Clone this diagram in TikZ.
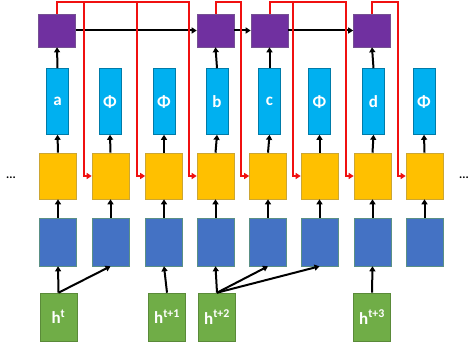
\documentclass[tikz,border=0pt]{standalone}
\usepackage{fontspec}
\setmainfont{Carlito}
\usetikzlibrary{arrows.meta}
\definecolor{cPurple}{HTML}{7030A0}
\definecolor{cCyan}{HTML}{00B0F0}
\definecolor{cYellow}{HTML}{FFC000}
\definecolor{cBlue}{HTML}{4472C4}
\definecolor{cGreen}{HTML}{70AD47}
\definecolor{cRed}{HTML}{F01010}
\tikzset{
  box/.style={inner sep=0pt, line width=0.6pt, text=white, font=\bfseries\fontsize{17}{20}\selectfont},
  pbox/.style={box, fill=cPurple, draw=cPurple!60!gray, minimum width=37pt, minimum height=33pt},
  cbox/.style={box, fill=cCyan, draw=cCyan!70!black, minimum width=22pt, minimum height=66pt},
  ybox/.style={box, fill=cYellow, draw=cYellow!60!gray, minimum width=37pt, minimum height=46pt},
  bbox/.style={box, fill=cBlue, draw=cBlue!50!cGreen, minimum width=37pt, minimum height=48pt},
  gbox/.style={box, fill=cGreen, draw=cGreen!80!black, minimum width=37pt, minimum height=48pt},
  arr/.style={draw=black, line width=2pt, -{Triangle[length=5pt,width=6pt]}},
  rarr/.style={draw=cRed, line width=2pt, -{Triangle[length=5pt,width=6pt]}},
  dots/.style={font=\bfseries\fontsize{12}{12}\selectfont, inner sep=0pt}
}
\begin{document}
\begin{tikzpicture}[x=1pt,y=-1pt]
\useasboundingbox (0,0) rectangle (471,347);
\fill[white] (0,0) rectangle (471,347);
\foreach \i/\x in {1/58,2/110.5,3/164,4/215.5,5/268,6/319.5,7/372.5,8/424.5}{
  \node[ybox] (y\i) at (\x,176) {};
  \node[bbox] (b\i) at (\x,242) {};
}
\node[cbox] (c1) at (57.5,101.5) {a};
\node[cbox] (c2) at (110,101.5) {Φ};
\node[cbox] (c3) at (164,101.5) {Φ};
\node[cbox] (c4) at (217,101.5) {b};
\node[cbox] (c5) at (269.5,101.5) {c};
\node[cbox] (c6) at (319.5,101.5) {Φ};
\node[cbox] (c7) at (373.5,101.5) {d};
\node[cbox] (c8) at (424,101.5) {Φ};
\node[pbox] (p1) at (57,30.5) {};
\node[pbox] (p4) at (215.5,30.5) {};
\node[pbox] (p5) at (269.5,30.5) {};
\node[pbox] (p7) at (372,30.5) {};
\node[gbox] (g1) at (58.5,317) {h\textsuperscript{t}};
\node[gbox] (g3) at (167,317) {h\textsuperscript{t+1}};
\node[gbox] (g4) at (217,317) {h\textsuperscript{t+2}};
\node[gbox] (g7) at (372,317) {h\textsuperscript{t+3}};
\node[dots] (dl) at (11,178) {...};
\node[dots] (dr) at (464,178) {...};
\foreach \i in {1,...,8}{
  \draw[arr] (b\i.north) -- (y\i.south);
  \draw[arr] (y\i.north) -- (c\i.south);
}
\foreach \i in {1,4,5,7}{
  \draw[arr] (c\i.north) -- (p\i.south);
}
\draw[arr] (g1.north) -- (b1.south);
\draw[arr] (g1.north) -- (b2.south);
\draw[arr] (g3.north) -- (b3.south);
\draw[arr] (g4.north) -- (b4.south);
\draw[arr] (g4.north) -- (b5.south);
\draw[arr] (g4.north) -- (b6.south);
\draw[arr] (g7.north) -- (b7.south);
\draw[arr] (p1.east) -- (p4.west);
\draw[arr] (p4.east) -- (p5.west);
\draw[arr] (p5.east) -- (p7.west);
\coordinate (top) at (0,2);
\foreach \j in {2,...,8}{
  \path ([xshift=-8pt]y\j.west) coordinate (r\j);
}
\foreach \s/\j in {p1/2,p1/3,p1/4,p4/5,p5/6,p5/7,p7/8}{
  \draw[rarr] (\s.north) |- (r\j |- top) -- (r\j) -- (y\j.west);
}
\end{tikzpicture}
\end{document}
